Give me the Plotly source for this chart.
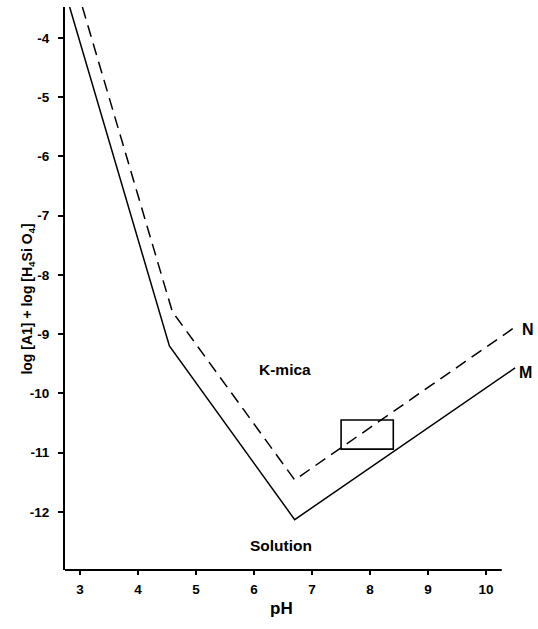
import plotly.graph_objects as go

# Boundary M (solid): K-mica / solution
ph_m = [2.82, 4.54, 6.70, 10.50]
log_m = [-3.48, -9.20, -12.13, -9.57]

# Boundary N (dashed)
ph_n = [3.04, 4.59, 6.70, 10.53]
log_n = [-3.48, -8.62, -11.46, -8.86]

# Rectangle (field of observed waters)
rect_ph = [7.50, 8.40]
rect_log = [-10.94, -10.45]

x_ticks = [3, 4, 5, 6, 7, 8, 9, 10]
y_ticks = [-4, -5, -6, -7, -8, -9, -10, -11, -12]
y_tick_text = [str(v) for v in y_ticks]

FONT = "Liberation Sans"

fig = go.Figure()
fig.add_trace(go.Scatter(x=ph_m, y=log_m, mode="lines",
                         line=dict(color="black", width=1.5),
                         showlegend=False, hoverinfo="skip"))
fig.add_trace(go.Scatter(x=ph_n, y=log_n, mode="lines",
                         line=dict(color="black", width=1.5, dash="12px,7px"),
                         showlegend=False, hoverinfo="skip"))

fig.add_shape(type="rect", xref="x", yref="y",
              x0=rect_ph[0], x1=rect_ph[1], y0=rect_log[0], y1=rect_log[1],
              line=dict(color="black", width=1.6))
# x axis line (shorter than plotting range)
fig.add_shape(type="line", xref="x", yref="paper",
              x0=2.74, x1=10.27, y0=0, y1=0,
              line=dict(color="black", width=2))

tick_font = dict(family=FONT, size=13.5, color="black", weight="bold")
label_font = dict(family=FONT, size=15.5, color="black", weight="bold")
end_font = dict(family=FONT, size=16, color="black", weight="bold")

# plot area: x 65..518, y 7..570 (453 x 563)
fig.add_annotation(x=6.54, y=-9.60, text="K-mica", showarrow=False,
                   xref="x", yref="y", font=label_font)
fig.add_annotation(x=6.47, y=-12.57, text="Solution", showarrow=False,
                   xref="x", yref="y", font=label_font)
fig.add_annotation(x=1.004, y=0.427, text="N", showarrow=False,
                   xref="paper", yref="paper", xanchor="left", font=end_font)
fig.add_annotation(x=0.998, y=0.350, text="M", showarrow=False,
                   xref="paper", yref="paper", xanchor="left", font=end_font)
fig.add_annotation(x=-0.106, y=0.482, xref="paper", yref="paper",
                   text="log [A1] + log [H<sub>4</sub>Si O<sub>4</sub>]",
                   textangle=-90, showarrow=False,
                   font=dict(family=FONT, size=14, color="black", weight="bold"))
fig.add_annotation(x=0.477, y=-0.089, xref="paper", yref="paper",
                   text="pH", showarrow=False,
                   font=dict(family=FONT, size=17, color="black", weight="bold"))

fig.update_xaxes(range=[2.74, 10.55], tickvals=x_ticks, ticks="outside",
                 ticklen=4, tickwidth=1.5, tickcolor="black",
                 showline=False, showgrid=False, zeroline=False,
                 tickfont=tick_font, ticklabelstandoff=3)
fig.update_yaxes(range=[-12.98, -3.48], tickvals=y_ticks, ticktext=y_tick_text,
                 ticks="outside", ticklen=5, tickwidth=2, tickcolor="black",
                 showline=True, linecolor="black", linewidth=2,
                 showgrid=False, zeroline=False,
                 tickfont=tick_font, ticklabelstandoff=6)

fig.update_layout(width=538, height=629,
                  margin=dict(l=65, r=20, t=7, b=59),
                  plot_bgcolor="white", paper_bgcolor="white",
                  font=dict(family=FONT, color="black"))

fig.write_html("out.html", config={"displayModeBar": False},
               post_script="document.body.style.margin='0';document.body.style.overflow='hidden';")
